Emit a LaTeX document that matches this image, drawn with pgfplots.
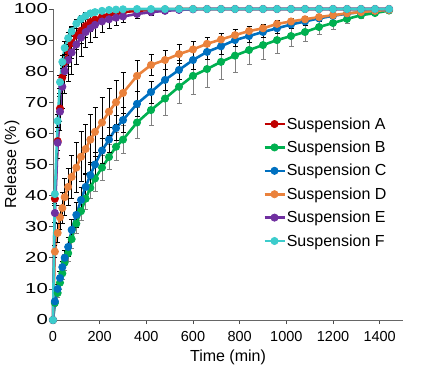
\documentclass[border=0pt]{standalone}
\usepackage{graphicx}
\usepackage{pgfplots}
\pgfplotsset{compat=1.18}
\usepackage{fontspec}
\setmainfont{Liberation Sans}
\definecolor{cA}{RGB}{192,0,0}
\definecolor{cB}{RGB}{0,176,80}
\definecolor{cC}{RGB}{0,112,192}
\definecolor{cD}{RGB}{234,130,60}
\definecolor{cE}{RGB}{112,48,160}
\definecolor{cF}{RGB}{60,204,204}
\pgfplotsset{
  ebar/.style={error bars/.cd, y dir=both, y explicit,
    error bar style={#1, line width=0.8pt},
    error mark options={#1, line width=0.8pt, mark size=2.5pt, rotate=90}},
}
\begin{document}
\begin{tikzpicture}
\useasboundingbox (-53pt,-52pt) rectangle (374pt,320pt);
\begin{axis}[
  scale only axis, width=350pt, height=311pt,
  xmin=0, xmax=1500, ymin=0, ymax=100,
  axis x line*=bottom, axis y line*=left,
  clip=false,
  tick align=outside, major tick length=4pt,
  xtick={0,200,...,1400}, ytick={0,10,...,100},
  tick style={black!70, line width=0.7pt},
  axis line style={black!60, line width=0.8pt},
  /pgf/number format/assume math mode=true,
  /pgf/number format/set thousands separator={},
  ticklabel style={font=\fontsize{14.5}{16}\selectfont},
  yticklabel={\scalebox{1.4}[1]{\pgfmathprintnumber{\tick}}},
  yticklabel style={inner sep=1pt},
  xticklabel style={inner sep=2pt, yshift=-5pt},
  xlabel={Time (min)}, ylabel={Release (\%)},
  label style={font=\fontsize{16}{18}\selectfont},
  x label style={at={(axis description cs:0.5,-0.119)}, anchor=center},
  y label style={at={(axis description cs:-0.117,0.5)}, anchor=center},
  every axis plot/.append style={line width=2.6pt, mark=*, mark size=3.6pt, mark options={solid, line width=0.8pt}},
  legend style={at={(axis description cs:0.60,0.655)}, anchor=north west, draw=none, fill=none,
    font=\fontsize{16}{18}\selectfont, row sep=8.3pt, inner sep=0pt, nodes={inner sep=1pt}},
  legend cell align=left,
  legend image code/.code={\draw[mark repeat=2,mark phase=2,#1] plot coordinates {(0pt,0pt) (10pt,0pt) (20pt,0pt)};},
]
% Suspension A
\addplot[color=cA, ebar=black]
table[x=t, y=v, y error=e]{
t v e
0 0 0
8 39 2
20 57.5 3
30 68 4
40 78 4
50 83 4.5
65 86.5 5
80 89 5
100 91.5 4.5
120 93 4
140 94.5 3.5
160 95.8 3
180 96.6 2.5
210 97.5 2
240 98.1 1.5
270 98.6 1.2
300 99 1
360 99.4 0.8
420 99.7 0.5
480 99.9 0.3
540 100 0.2
600 100 0.2
660 100 0.2
720 100 0.2
780 100 0.2
840 100 0.2
900 100 0.2
960 100 0.2
1020 100 0.2
1080 100 0.2
1140 100 0.2
1200 100 0.2
1260 100 0.2
1320 100 0.2
1380 100 0.2
1440 100 0.2
};
\addlegendentry{Suspension A}
% Suspension B
\addplot[color=cB, ebar=black!50]
table[x=t, y=v, y error=e]{
t v e
0 0 0
8 5.5 1
20 8.7 1.5
30 12 2
40 15 2
50 18.5 2.5
65 21.5 2.5
80 26 3
100 31 3
120 35 3
140 39 3.5
160 42.5 3.5
180 45.5 4
210 49 4
240 52.4 4
270 55.7 4.5
300 58 4.5
360 63.5 5
420 67.5 5
480 71.2 5.5
540 75 5.5
600 78.5 5.8
660 80.7 6
720 83 5.7
780 85 5.4
840 86.8 4.7
900 88.4 4.5
960 90 4.3
1020 91.3 3.3
1080 92.6 2.9
1140 94.2 2.5
1200 95.5 2
1260 96.8 1.5
1320 98 1
1380 98.7 0.8
1440 99.5 0.5
};
\addlegendentry{Suspension B}
% Suspension C
\addplot[color=cC, ebar=black]
table[x=t, y=v, y error=e]{
t v e
0 0 0
8 6 1
20 10 1.5
30 13.5 2
40 17 2
50 20 2.5
65 23.5 3
80 29 3.5
100 33.8 4
120 38.6 4
140 42.8 4
160 46.6 4
180 50 4
210 54.5 4
240 58 4
270 61.7 4
300 64.3 4
360 69.5 4
420 73.3 3.5
480 77.2 3.5
540 80.4 3
600 83.6 3
660 86.2 2.5
720 88 2.5
780 90 2
840 91.3 2
900 92.6 1.8
960 93.8 1.5
1020 95 1.3
1080 96 1.2
1140 97 1
1200 97.8 0.8
1260 98.5 0.6
1320 99 0.5
1380 99.4 0.4
1440 99.7 0.3
};
\addlegendentry{Suspension C}
% Suspension D
\addplot[color=cD, ebar=black]
table[x=t, y=v, y error=e]{
t v e
0 0 0
8 22 2
20 28 3
30 33 4
40 36 5
50 39.5 6
65 42.8 6
80 46 7
100 49 8
120 52.5 8
140 55 8
160 58 8
180 60.5 8
210 63.5 8
240 67 7.5
270 70 7
300 73 6.5
360 78.5 5
420 82 3.5
480 83.6 3
540 85.5 3
600 87 2.5
660 88.8 2.2
720 90.2 2
780 91.6 1.8
840 92.9 1.5
900 93.8 1.3
960 95.2 1.2
1020 96 1
1080 96.7 0.9
1140 97.4 0.8
1200 98 0.7
1260 98.6 0.6
1320 99 0.5
1380 99.4 0.4
1440 99.7 0.3
};
\addlegendentry{Suspension D}
% Suspension E
\addplot[color=cE, ebar=black]
table[x=t, y=v, y error=e]{
t v e
0 0 0
8 34.4 3
20 57 5
30 67 6
40 75 7
50 80 7
65 83.6 7
80 86 7
100 88.6 6.5
120 90.8 6
140 92.6 5
160 93.8 4.5
180 94.9 4
210 96 3.5
240 96.7 3
270 97.2 2.5
300 97.6 2
360 98.4 1.5
420 99 1
480 99.4 0.7
540 99.7 0.5
600 99.9 0.3
660 100 0.2
720 100 0.2
780 100 0.2
840 100 0.2
900 100 0.2
960 100 0.2
1020 100 0.2
1080 100 0.2
1140 100 0.2
1200 100 0.2
1260 100 0.2
1320 100 0.2
1380 100 0.2
1440 100 0.2
};
\addlegendentry{Suspension E}
% Suspension F
\addplot[color=cF, ebar=black]
table[x=t, y=v, y error=e]{
t v e
0 0 0
8 40.5 1
20 64 2
30 76.5 2
40 83 2
50 87.5 2
65 90.6 2
80 92.8 1.5
100 95.3 1.5
120 96.8 1.2
140 97.8 1
160 98.6 0.8
180 99 0.6
210 99.4 0.5
240 99.7 0.4
270 99.8 0.3
300 99.9 0.2
360 100 0.1
420 100 0.1
480 100 0.1
540 100 0.1
600 100 0.1
660 100 0.1
720 100 0.1
780 100 0.1
840 100 0.1
900 100 0.1
960 100 0.1
1020 100 0.1
1080 100 0.1
1140 100 0.1
1200 100 0.1
1260 100 0.1
1320 100 0.1
1380 100 0.1
1440 100 0.1
};
\addlegendentry{Suspension F}
\end{axis}
\end{tikzpicture}
\end{document}
